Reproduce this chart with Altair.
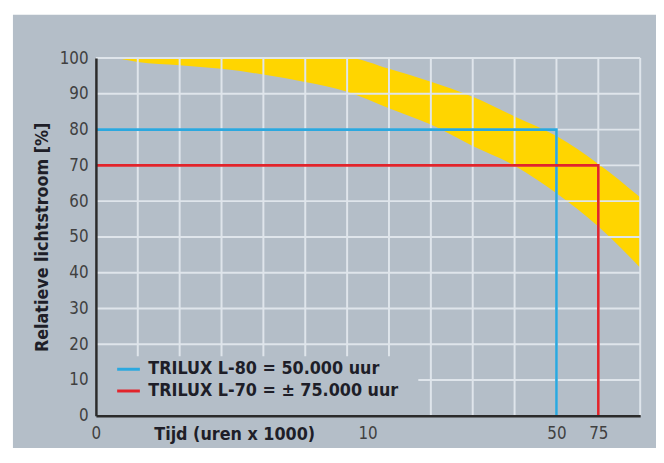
import altair as alt
import pandas as pd

# ---------------- data ----------------
y_ticks = list(range(0, 101, 10))
grid_units = list(range(1, 14))             # vertical grid lines (axis is drawn in grid units 0..13)
x_tick_labels = ["0", "10", "50", "75"]
x_tick_hours = [0, 10, 50, 75]
x_tick_units = [0, 6.49, 11, 12]

band_u = [0.47, 1, 2, 3, 4, 5, 6, 7, 8, 9, 10, 11, 12, 13]
band_upper = [100, 100, 100, 100, 100, 100, 100, 97.0, 93.4, 89.2, 83.7, 78.2, 70.4, 61.1]
band_lower = [100, 98.9, 98.0, 97.0, 95.4, 93.3, 90.6, 86.0, 81.4, 75.4, 69.9, 62.2, 52.9, 41.4]

series_names = ["TRILUX L-80 = 50.000 uur", "TRILUX L-70 = ± 75.000 uur"]
series_level = [80, 70]
series_hours = [50, 75]
series_colors = ["#2ba8df", "#e2242b"]

# ---------------- tables ----------------
hour_to_unit = dict(zip(x_tick_hours, x_tick_units))

band_df = pd.DataFrame({"u": band_u, "upper": band_upper, "lower": band_lower})

rows = []
for name, lvl, h in zip(series_names, series_level, series_hours):
    u = hour_to_unit[h]
    rows += [
        {"name": name, "u": 0, "y": lvl, "o": 0},
        {"name": name, "u": u, "y": lvl, "o": 1},
        {"name": name, "u": u, "y": 0, "o": 2},
    ]
lines_df = pd.DataFrame(rows)

legend_cut_u = 7.7
legend_cut_y = 16.6
vgrid_df = pd.DataFrame({
    "u": grid_units,
    "y0": [legend_cut_y if g <= 7 else 0 for g in grid_units],
    "y1": [100] * len(grid_units),
})
hgrid_vals = [v for v in y_ticks if v > 0]
hgrid_df = pd.DataFrame({
    "v": hgrid_vals,
    "x0": [legend_cut_u if v == 10 else 0 for v in hgrid_vals],
    "x1": [13] * len(hgrid_vals),
})

label_expr = "''"
for pos, lab in reversed(list(zip(x_tick_units, x_tick_labels))):
    label_expr = f"abs(datum.value - {pos}) < 0.01 ? '{lab}' : ({label_expr})"

FONT = "DejaVu Sans Condensed"
TXT = "#1e1e28"

xscale = alt.Scale(domain=[0, 13], nice=False, zero=False)
yscale = alt.Scale(domain=[0, 100], nice=False)

x_axis = alt.Axis(
    values=x_tick_units, labelExpr=label_expr, grid=False, ticks=False,
    domainColor="#2b2b2b", domainWidth=2.5, labelFlush=False, labelOverlap=False,
    labelFont=FONT, labelFontSize=17, labelColor="#404040", labelPadding=10,
    title="Tijd (uren x 1000)", titleX=140, titleY=19, titleAlign="center",
    titleBaseline="middle", titleFont=FONT, titleFontSize=18, titleFontWeight="bold",
    titleColor=TXT, zindex=1,
)
y_axis = alt.Axis(
    values=y_ticks, tickCount=11, grid=False, ticks=False, labelOverlap=False,
    domainColor="#2b2b2b", domainWidth=2.5,
    labelFont=FONT, labelFontSize=17, labelColor="#404040", labelPadding=8,
    title="Relatieve lichtstroom [%]", titleFont=FONT, titleFontSize=18,
    titleFontWeight="bold", titleColor=TXT, titlePadding=8, zindex=1,
)

bg = alt.Chart(pd.DataFrame({"a": [0]})).mark_rect(color="#b4bec8").encode(
    x=alt.value(-84), x2=alt.value(600), y=alt.value(-44), y2=alt.value(420)
)

band = alt.Chart(band_df).mark_area(color="#ffd500", interpolate="monotone").encode(
    x=alt.X("u:Q", scale=xscale, axis=x_axis),
    y=alt.Y("upper:Q", scale=yscale, axis=y_axis),
    y2="lower:Q",
)

vgrid = alt.Chart(vgrid_df).mark_rule(color="#dfe5eb", strokeWidth=2).encode(
    x=alt.X("u:Q", scale=xscale, axis=x_axis),
    y=alt.Y("y1:Q", scale=yscale, axis=y_axis),
    y2="y0:Q",
)
hgrid = alt.Chart(hgrid_df).mark_rule(color="#dfe5eb", strokeWidth=2).encode(
    y=alt.Y("v:Q", scale=yscale, axis=y_axis),
    x=alt.X("x0:Q", scale=xscale, axis=x_axis),
    x2="x1:Q",
)

lines = alt.Chart(lines_df).mark_line(strokeWidth=2.6).encode(
    x=alt.X("u:Q", scale=xscale, axis=x_axis),
    y=alt.Y("y:Q", scale=yscale, axis=y_axis),
    order="o:Q",
    color=alt.Color(
        "name:N",
        scale=alt.Scale(domain=series_names, range=series_colors),
        legend=alt.Legend(
            title=None, orient="none", legendX=20, legendY=302, padding=0,
            symbolType="stroke", symbolSize=529, symbolStrokeWidth=3,
            labelFont=FONT, labelFontSize=18, labelFontWeight="bold",
            labelColor=TXT, labelOffset=7, rowPadding=0,
            labelLimit=400,
        ),
    ),
)

chart = alt.layer(bg, band, vgrid, hgrid, lines).properties(
    width=551, height=362,
    autosize=alt.AutoSizeParams(type="none"),
    padding={"left": 89, "top": 48, "right": 16, "bottom": 30},
).configure(background="white").configure_view(stroke=None, fill=None)

chart.save("out.html", embed_options={"renderer": "svg", "actions": False})
